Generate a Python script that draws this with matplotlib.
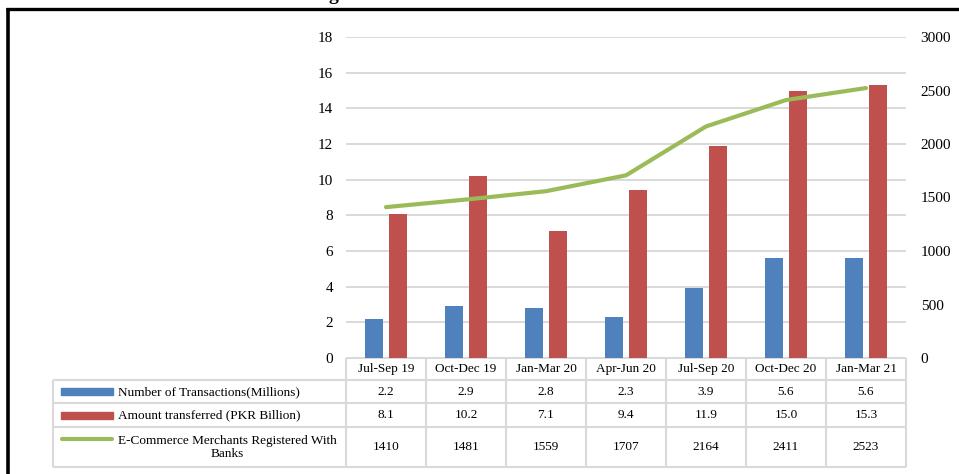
import numpy as np
import matplotlib
matplotlib.use("Agg")
import matplotlib.pyplot as plt
from matplotlib.patches import Rectangle

# data
quarters = ["Jul-Sep 19", "Oct-Dec 19", "Jan-Mar 20", "Apr-Jun 20",
            "Jul-Sep 20", "Oct-Dec 20", "Jan-Mar 21"]
transactions = [2.2, 2.9, 2.8, 2.3, 3.9, 5.6, 5.6]
amount = [8.1, 10.2, 7.1, 9.4, 11.9, 15.0, 15.3]
merchants = [1410, 1481, 1559, 1707, 2164, 2411, 2523]
series_names = ["Number of Transactions(Millions)",
                "Amount transferred (PKR Billion)",
                "E-Commerce Merchants Registered With\nBanks"]

BLUE, RED, GREEN, GRID = "#4f81bd", "#c0504d", "#9bbb59", "#d9d9d9"
plt.rcParams['font.family'] = ['Liberation Serif', 'DejaVu Serif']

W, H = 959, 474
fig = plt.figure(figsize=(W / 100, H / 100), dpi=100)

# plot area in pixels
x0, x1 = 346, 906
ytop, ybot = 37, 358
ax = fig.add_axes([x0 / W, 1 - ybot / H, (x1 - x0) / W, (ybot - ytop) / H])
x = np.arange(len(quarters))
ax.bar(x - 0.145, transactions, width=0.225, color=BLUE, zorder=2)
ax.bar(x + 0.145, amount, width=0.225, color=RED, zorder=2)
ax.set_xlim(-0.5, len(quarters) - 0.5)
ax.set_ylim(0, 18)
ax.set_yticks(range(0, 19, 2))
ax.yaxis.grid(True, color=GRID, lw=1.4)
ax.set_axisbelow(True)
ax.tick_params(axis='y', length=0, pad=9.4, labelsize=11)
ax.set_xticks([])
for s in ax.spines.values():
    s.set_visible(False)

ax2 = ax.twinx()
ax2.plot(x, merchants, color=GREEN, lw=3, solid_capstyle='round', zorder=3)
ax2.set_ylim(0, 3000)
ax2.set_yticks(range(0, 3001, 500))
ax2.tick_params(axis='y', length=0, pad=10.5, labelsize=11)
for s in ax2.spines.values():
    s.set_visible(False)

# data table under the chart, drawn in pixel coords
tab = fig.add_axes([0, 0, 1, 1], zorder=-1)
tab.set_xlim(0, W)
tab.set_ylim(H, 0)
tab.axis('off')

col_edges = np.linspace(x0, x1, len(quarters) + 1)
col_mid = (col_edges[:-1] + col_edges[1:]) / 2
row_edges = [358, 380, 403, 427, 467]
leg_left = 53
lc = dict(color=GRID, lw=1.5, solid_capstyle='butt')

tab.plot([x0, x1], [row_edges[0]] * 2, **lc)
for yy in row_edges[1:]:
    tab.plot([leg_left, x1], [yy, yy], **lc)
tab.plot([leg_left, leg_left], [row_edges[1], row_edges[-1]], **lc)
for xx in col_edges:
    tab.plot([xx, xx], [row_edges[0], row_edges[-1]], **lc)

fs = 9.5
for cx, q in zip(col_mid, quarters):
    tab.text(cx, 369, q, ha='center', va='center', fontsize=fs)

row_mid = [(row_edges[i] + row_edges[i + 1]) / 2 for i in range(1, 4)]
rows = [[f"{v:.1f}" for v in transactions],
        [f"{v:.1f}" for v in amount],
        [str(v) for v in merchants]]
for ry, vals in zip(row_mid, rows):
    for cx, v in zip(col_mid, vals):
        tab.text(cx, ry + 0.5, v, ha='center', va='center', fontsize=fs)

# legend keys
tab.add_patch(Rectangle((61, row_mid[0] - 3.5), 52, 7, color=BLUE))
tab.add_patch(Rectangle((61, row_mid[1] - 3.5), 52, 7, color=RED))
tab.plot([62, 112], [439, 439], color=GREEN, lw=3, solid_capstyle='round')
tab.text(118, row_mid[0] + 0.5, series_names[0], ha='left', va='center', fontsize=fs)
tab.text(118, row_mid[1] + 0.5, series_names[1], ha='left', va='center', fontsize=fs)
tab.text(118, row_mid[2] + 0.5, series_names[2], ha='left', va='center',
         multialignment='center', fontsize=fs, linespacing=1.2)

# frame of the page and the clipped title above it
tab.plot([7.5, 7.5], [8, H], color='black', lw=2.6, solid_capstyle='butt')
tab.plot([6, W], [8.5, 8.5], color='black', lw=2.4, solid_capstyle='butt')
tab.text(333, -0.5, "g", ha='center', va='baseline', fontsize=14, fontweight='bold')

fig.savefig("out.png", dpi=100)
